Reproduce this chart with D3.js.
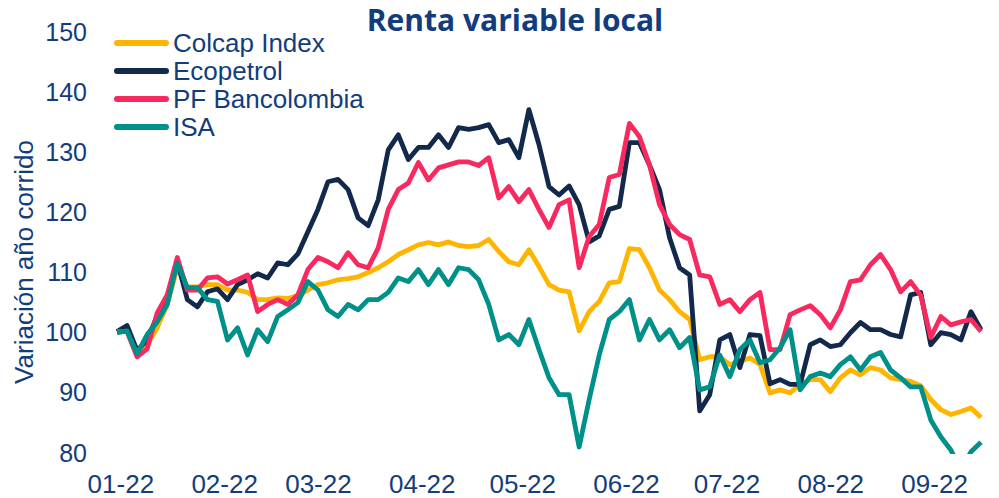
<!DOCTYPE html>
<html lang="es">
<head>
  <meta charset="UTF-8">
  <title>Renta variable local</title>
  <style>
    * { margin: 0; box-sizing: border-box; }
    body { background: #fff; }
    svg { display: block; font-family: "Liberation Sans", Arial, sans-serif; }
    .tick text { fill: #123d7c; }
  </style>
</head>
<body>
  <svg></svg>
  <script src="https://d3js.org/d3.v7.min.js"></script>
  <script>
    // series, sampled every 3 calendar days from the last close of 2021
    const seriesNames = ['Colcap Index', 'Ecopetrol', 'PF Bancolombia', 'ISA'];
    const seriesColors = ['#ffb500', '#13294b', '#f7295f', '#00908a'];
    const startDate = '2021-12-31';
    const stepDays = 3;

    const colcap = [100.0, 100.3, 97.0, 98.0, 100.8, 104.7, 110.8, 107.6, 107.6, 108.0, 108.0, 107.1, 107.1, 106.7, 105.5,
      105.5, 105.8, 105.7, 106.2, 107.1, 108.0, 108.3, 108.8, 109.0, 109.3, 110.0, 110.8, 111.8, 113.0, 113.8,
      114.6, 115.0, 114.6, 115.1, 114.5, 114.3, 114.5, 115.5, 113.5, 111.8, 111.3, 113.8, 111.0, 108.0, 107.1,
      106.8, 100.3, 103.5, 105.2, 108.3, 108.5, 114.0, 113.8, 110.8, 107.1, 105.5, 103.5, 102.2, 95.5, 96.0,
      96.0, 94.7, 95.2, 95.8, 94.7, 90.0, 90.5, 90.0, 91.4, 92.2, 92.2, 90.2, 92.5, 93.8, 93.0,
      94.2, 93.8, 92.5, 92.2, 91.9, 91.2, 88.9, 87.2, 86.4, 86.9, 87.5, 85.9];
    const ecopetrol = [100.2, 101.2, 97.0, 98.8, 102.8, 105.8, 111.8, 105.5, 104.3, 106.8, 107.3, 105.5, 108.0, 108.8, 109.8,
      109.1, 111.6, 111.3, 113.1, 116.8, 120.5, 125.1, 125.5, 123.8, 119.1, 117.8, 122.1, 130.4, 132.9, 128.8,
      130.8, 130.8, 132.9, 130.8, 134.1, 133.8, 134.1, 134.6, 131.6, 132.1, 129.1, 137.1, 131.3, 124.3, 122.9,
      124.4, 121.3, 115.1, 116.1, 120.5, 121.0, 131.6, 131.6, 127.9, 123.8, 115.8, 110.8, 109.6, 87.0, 89.7,
      98.8, 99.7, 94.2, 99.7, 99.5, 91.5, 92.2, 91.4, 91.4, 98.0, 98.8, 97.7, 98.0, 100.0, 101.7,
      100.5, 100.5, 99.7, 99.3, 106.3, 106.7, 98.0, 100.0, 99.7, 98.8, 103.5, 100.5];
    const bancolombia = [100.2, 100.2, 96.0, 97.3, 103.3, 106.3, 112.5, 107.1, 107.1, 109.1, 109.3, 108.1, 108.8, 109.6, 103.5,
      104.7, 105.5, 104.7, 106.3, 110.5, 112.5, 111.8, 110.8, 113.3, 111.3, 110.8, 114.1, 120.5, 123.8, 124.9,
      128.3, 125.4, 127.4, 127.9, 128.4, 128.4, 127.8, 129.1, 122.4, 124.3, 121.8, 123.8, 120.5, 117.5, 121.3,
      122.1, 110.8, 116.0, 118.0, 125.8, 126.3, 134.8, 132.6, 127.9, 121.3, 118.0, 116.3, 115.5, 109.6, 109.3,
      104.7, 105.5, 103.5, 105.5, 106.7, 97.2, 97.2, 103.0, 103.8, 104.5, 103.0, 100.8, 103.8, 108.5, 108.8,
      111.3, 113.0, 110.5, 106.8, 108.5, 106.2, 99.2, 102.7, 101.3, 101.8, 102.2, 100.2];
    const isa = [100.0, 100.3, 96.5, 99.7, 101.8, 104.7, 111.6, 107.5, 107.5, 105.5, 105.2, 98.8, 100.8, 96.3, 100.5,
      98.5, 102.7, 103.8, 105.0, 108.5, 107.1, 103.8, 102.7, 104.7, 103.8, 105.5, 105.5, 106.7, 109.1, 108.5,
      110.5, 108.0, 110.5, 108.0, 110.8, 110.5, 108.8, 104.7, 98.8, 99.7, 98.0, 102.2, 97.2, 92.5, 89.7,
      89.7, 81.0, 88.9, 96.3, 102.2, 103.5, 105.5, 98.8, 102.2, 98.8, 100.5, 97.5, 99.2, 90.5, 91.0,
      96.3, 92.7, 97.2, 98.8, 95.0, 95.5, 97.5, 100.5, 90.5, 92.7, 93.3, 92.7, 94.7, 96.0, 93.8,
      96.0, 96.7, 93.8, 92.5, 91.0, 91.0, 85.5, 82.7, 80.5, 77.2, 80.2, 81.8];

    const yTicks = [80, 90, 100, 110, 120, 130, 140, 150];
    const monthTicks = ['2022-01-01', '2022-02-01', '2022-03-01', '2022-04-01', '2022-05-01',
      '2022-06-01', '2022-07-01', '2022-08-01', '2022-09-01'];

    const width = 999;
    const height = 498;
    const textColor = '#123d7c';

    const parse = d3.timeParse('%Y-%m-%d');
    const t0 = parse(startDate);
    const allSeries = [colcap, ecopetrol, bancolombia, isa];
    const dates = colcap.map((v, i) => d3.timeDay.offset(t0, i * stepDays));

    const svg = d3.select('svg')
      .attr('width', width)
      .attr('height', height);

    const xScale = d3.scaleTime()
      .domain([dates[0], dates[dates.length - 1]])
      .range([117, 981]);
    const yScale = d3.scaleLinear()
      .domain([80, 150])
      .range([453, 32]);

    svg.append('clipPath')
      .attr('id', 'plot-clip')
      .append('rect')
      .attr('x', 0)
      .attr('y', 0)
      .attr('width', width)
      .attr('height', yScale(80) + 1);

    // axes (labels only)
    const yAxis = svg.append('g')
      .attr('transform', 'translate(117,0)')
      .call(d3.axisLeft(yScale).tickValues(yTicks).tickSize(0).tickPadding(30));
    yAxis.select('.domain').remove();
    yAxis.selectAll('text')
      .attr('font-size', 25)
      .attr('font-family', '"Liberation Sans", Arial, sans-serif');

    const xAxis = svg.append('g')
      .attr('transform', 'translate(0,' + yScale(80) + ')')
      .call(d3.axisBottom(xScale)
        .tickValues(monthTicks.map(parse))
        .tickFormat(d3.timeFormat('%m-%y'))
        .tickSize(0)
        .tickPadding(22));
    xAxis.select('.domain').remove();
    xAxis.selectAll('text')
      .attr('font-size', 26)
      .attr('font-family', '"Liberation Sans", Arial, sans-serif');

    // lines
    const line = d3.line()
      .x((d, i) => xScale(dates[i]))
      .y(d => yScale(d));

    svg.append('g')
      .attr('clip-path', 'url(#plot-clip)')
      .selectAll('path')
      .data(allSeries)
      .enter()
      .append('path')
      .attr('d', d => line(d))
      .attr('fill', 'none')
      .attr('stroke', (d, i) => seriesColors[i])
      .attr('stroke-width', 4.8)
      .attr('stroke-linejoin', 'round')
      .attr('stroke-linecap', 'butt');

    // legend
    const legend = svg.append('g')
      .attr('transform', 'translate(115,43)');
    const legendItems = legend.selectAll('.legend-item')
      .data(seriesNames)
      .enter()
      .append('g')
      .attr('class', 'legend-item')
      .attr('transform', (d, i) => 'translate(0,' + i * 28 + ')');
    legendItems.append('line')
      .attr('x1', 2)
      .attr('x2', 51)
      .attr('stroke', (d, i) => seriesColors[i])
      .attr('stroke-width', 6)
      .attr('stroke-linecap', 'round');
    legendItems.append('text')
      .attr('x', 58)
      .attr('y', 9)
      .attr('font-size', 26)
      .attr('fill', textColor)
      .text(d => d);

    // title
    svg.append('text')
      .attr('x', 515)
      .attr('y', 31)
      .attr('text-anchor', 'middle')
      .attr('font-family', '"Open Sans", Lato, sans-serif')
      .attr('font-weight', 'bold')
      .attr('font-size', 30)
      .attr('fill', textColor)
      .text('Renta variable local');

    // y label
    svg.append('text')
      .attr('transform', 'translate(33,262) rotate(-90)')
      .attr('text-anchor', 'middle')
      .attr('font-size', 26)
      .attr('fill', textColor)
      .text('Variación año corrido');
  </script>
</body>
</html>
